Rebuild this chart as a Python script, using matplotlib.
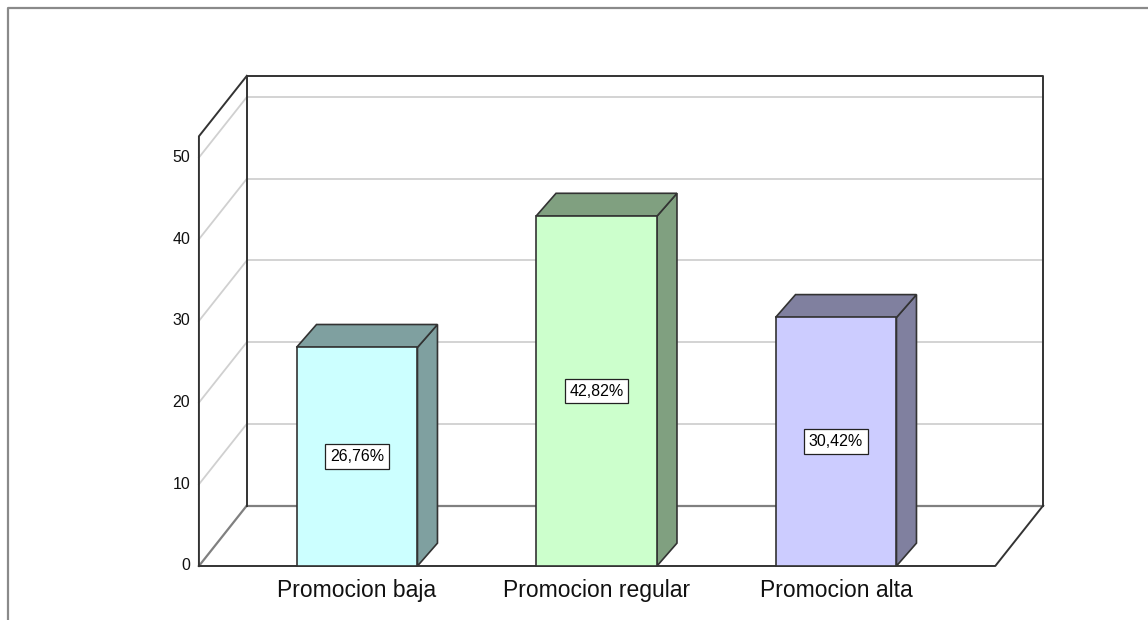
import matplotlib
matplotlib.use("Agg")
import matplotlib.pyplot as plt
from matplotlib.patches import Polygon, Rectangle

plt.rcParams['font.family'] = ['Liberation Sans', 'DejaVu Sans']

# ---- data ----
categories = ["Promocion baja", "Promocion regular", "Promocion alta"]
values = [26.76, 42.82, 30.42]
value_labels = ["26,76%", "42,82%", "30,42%"]
yticks = [0, 10, 20, 30, 40, 50]
front_colors = ["#CCFFFF", "#CCFFCC", "#CCCCFF"]
side_colors = ["#7FA0A0", "#80A080", "#80809F"]

# ---- geometry (data units: x = category index, y = value) ----
FL, FR = -0.66, 2.665        # front floor left / right
DX, DY = 0.2, 7.4            # wall depth offset
YMAX = 52.6                  # wall top
BW = 0.505                   # bar width
BDX, BDY = 0.0835, 2.8       # bar depth offset

fig = plt.figure(figsize=(11.48, 6.2), dpi=100)
ax = fig.add_axes([0, 0, 1, 1])
ax.set_xlim(-1.4906, 3.3027)
ax.set_ylim(-6.61, 69.28)
ax.axis('off')

dark = "#333333"
mid = "#808080"
light = "#d0d0d0"

# gridlines
for t in yticks[1:]:
    ax.plot([FL + DX, FR + DX], [t + DY, t + DY], color=light, lw=1.3, zorder=1)
    ax.plot([FL, FL + DX], [t, t + DY], color=light, lw=1.3, zorder=1)

# floor back line and left floor diagonal
ax.plot([FL + DX, FR + DX], [DY, DY], color=mid, lw=1.6, zorder=2)
ax.plot([FL, FL + DX], [0, DY], color=mid, lw=1.6, zorder=2)

# back wall outline
ax.plot([FL + DX, FL + DX, FR + DX, FR + DX], [DY, YMAX + DY, YMAX + DY, DY],
        color=dark, lw=1.4, zorder=2)
# left wall front edge and top diagonal
ax.plot([FL, FL, FL + DX], [0, YMAX, YMAX + DY], color=dark, lw=1.4, zorder=2)
# floor front and right diagonal
ax.plot([FL, FR, FR + DX], [0, 0, DY], color=dark, lw=1.4, zorder=2)

# bars
for i, (v, fc, sc) in enumerate(zip(values, front_colors, side_colors)):
    l, r = i - BW / 2, i + BW / 2
    side = Polygon([(r, 0), (r + BDX, BDY), (r + BDX, v + BDY), (r, v)],
                   closed=True, fc=sc, ec=dark, lw=1.2, zorder=5)
    top = Polygon([(l, v), (r, v), (r + BDX, v + BDY), (l + BDX, v + BDY)],
                  closed=True, fc=sc, ec=dark, lw=1.2, zorder=5)
    front = Rectangle((l, 0), BW, v, fc=fc, ec=dark, lw=1.2, zorder=6)
    ax.add_patch(side)
    ax.add_patch(top)
    ax.add_patch(front)
    ax.text(i, v / 2, value_labels[i], ha='center', va='center', fontsize=11.5,
            color='black', zorder=8,
            bbox=dict(boxstyle='square,pad=0.3', fc='white', ec='#222222', lw=0.9))
    ax.text(i, -2.94, categories[i], ha='center', va='center', fontsize=16.5,
            color='#111111', zorder=8)

# y tick labels
for t in yticks:
    ax.text(FL - 0.037, t, str(t), ha='right', va='center', fontsize=11.5,
            color='#111111', zorder=8)

# outer frame (top and left)
ax.plot([8 / 1148, 8 / 1148, 1.0], [0.0, 1 - 8 / 620, 1 - 8 / 620],
        transform=ax.transAxes, color='#8a8a8a', lw=1.6, zorder=3, clip_on=False)

fig.savefig("out.png", dpi=100)
